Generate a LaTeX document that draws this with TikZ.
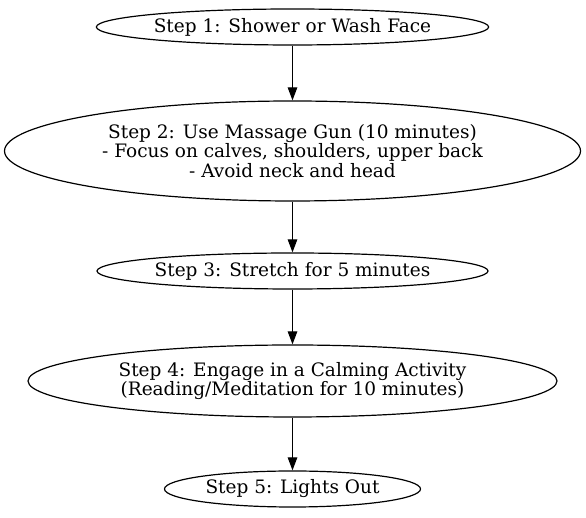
\documentclass[tikz,border=0pt]{standalone}
\usepackage{fontspec}
\setmainfont{DejaVu Serif}
\usetikzlibrary{arrows.meta, shapes.geometric}

\tikzset{
    stepnode/.style={draw, ellipse, inner sep=0pt, align=center, line width=1.2pt,
        font=\fontsize{18.5}{19.5}\selectfont},
    flow/.style={-{Triangle[length=13pt,width=9.5pt]}, line width=1.2pt}
}

\begin{document}
\begin{tikzpicture}[x=1pt,y=1pt]
        \useasboundingbox (0,0) rectangle (586,518);
        \node[stepnode, minimum width=391, minimum height=36] (s1) at (292.5,491) {Step 1: Shower or Wash Face};
        \node[stepnode, minimum width=576, minimum height=100] (s2) at (292.5,367) {Step 2: Use Massage Gun (10 minutes)\\- Focus on calves, shoulders, upper back\\- Avoid neck and head};
        \node[stepnode, minimum width=391, minimum height=36] (s3) at (292.5,247) {Step 3: Stretch for 5 minutes};
        \node[stepnode, minimum width=529, minimum height=72] (s4) at (292.5,137) {Step 4: Engage in a Calming Activity\\(Reading/Meditation for 10 minutes)};
        \node[stepnode, minimum width=256, minimum height=36] (s5) at (292.5,29) {Step 5: Lights Out};
        \draw[flow] (s1) -- (s2);
        \draw[flow] (s2) -- (s3);
        \draw[flow] (s3) -- (s4);
        \draw[flow] (s4) -- (s5);
    \end{tikzpicture}
\end{document}
